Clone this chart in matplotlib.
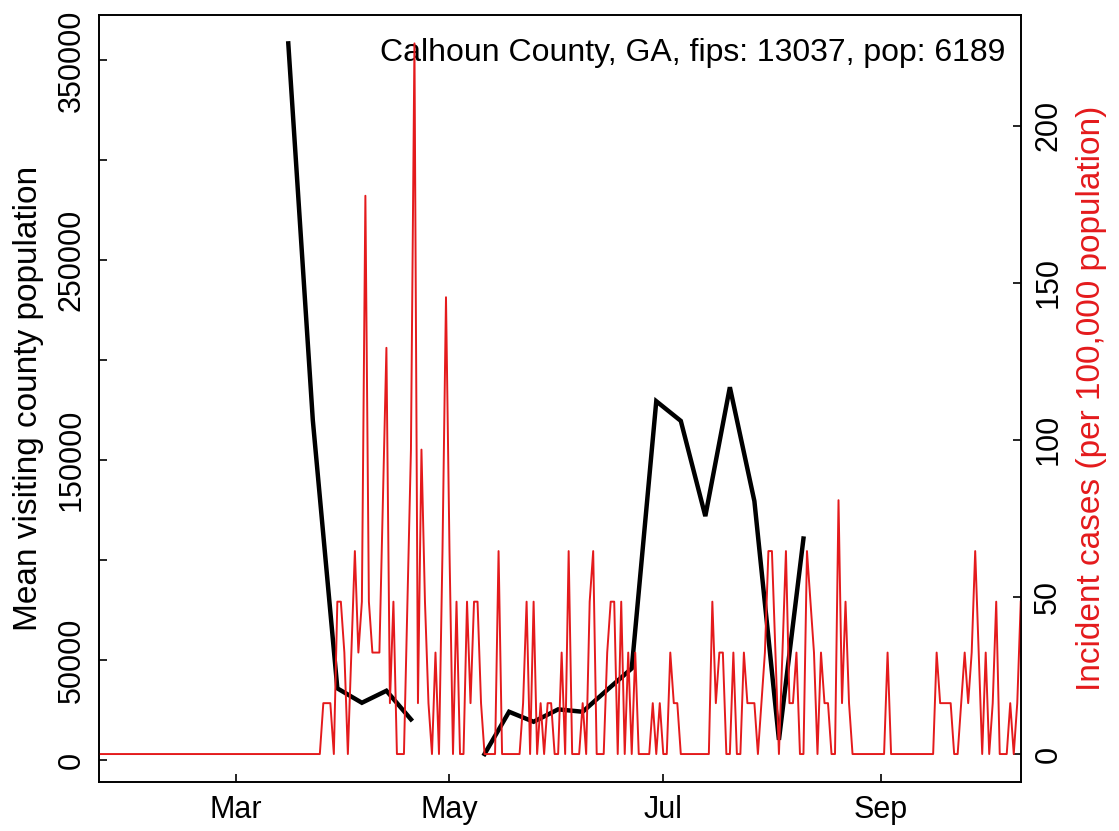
import matplotlib

matplotlib.use("Agg")
import matplotlib.pyplot as plt
import numpy as np

plt.rcParams["font.family"] = ["Liberation Sans", "DejaVu Sans"]

RED = "#E41A1C"

# daily incident cases per 100,000 (Jan 22 .. Oct 11, 2020)
case_start = "2020-01-22"
cases = (
    [0.0] * 64  # Jan 22 - Mar 25
    + [16.2, 16.2, 16.2, 0.0, 48.5, 48.5, 32.3, 0.0, 32.3, 64.6, 32.3, 48.5,
       177.7, 48.5, 32.3, 32.3, 32.3, 80.8, 129.3, 16.2, 48.5, 0.0, 0.0, 0.0,
       48.5, 96.9, 226.2, 16.2, 96.9, 48.5, 16.2, 0.0, 32.3, 0.0, 64.6, 145.4]  # Mar 26 - Apr 30
    + [64.6, 0.0, 48.5, 0.0, 0.0, 48.5, 16.2, 48.5, 48.5, 16.2, 0.0, 0.0,
       0.0, 0.0, 64.6, 0.0, 0.0, 0.0, 0.0, 0.0, 0.0, 16.2, 48.5, 0.0,
       48.5, 0.0, 16.2, 0.0, 16.2, 16.2, 0.0]  # May
    + [0.0, 32.3, 0.0, 64.6, 0.0, 0.0, 0.0, 16.2, 0.0, 48.5, 64.6, 0.0,
       0.0, 0.0, 32.3, 48.5, 48.5, 0.0, 48.5, 0.0, 32.3, 0.0, 32.3, 0.0,
       0.0, 0.0, 0.0, 16.2, 0.0, 16.2]  # Jun
    + [0.0, 0.0, 32.3, 16.2, 16.2, 0.0, 0.0, 0.0, 0.0, 0.0, 0.0, 0.0,
       0.0, 0.0, 48.5, 16.2, 32.3, 32.3, 0.0, 0.0, 32.3, 0.0, 0.0, 32.3,
       16.2, 16.2, 16.2, 0.0, 16.2, 32.3, 64.6]  # Jul
    + [64.6, 32.3, 0.0, 32.3, 64.6, 16.2, 16.2, 32.3, 0.0, 0.0, 64.6, 48.5,
       32.3, 0.0, 32.3, 16.2, 16.2, 0.0, 0.0, 80.8, 16.2, 48.5, 16.2, 0.0,
       0.0, 0.0, 0.0, 0.0, 0.0, 0.0, 0.0]  # Aug
    + [0.0, 0.0, 32.3, 0.0, 0.0, 0.0, 0.0, 0.0, 0.0, 0.0, 0.0, 0.0,
       0.0, 0.0, 0.0, 0.0, 32.3, 16.2, 16.2, 16.2, 16.2, 0.0, 0.0, 16.2,
       32.3, 16.2, 32.3, 64.6, 32.3, 0.0]  # Sep
    + [32.3, 0.0, 16.2, 48.5, 0.0, 0.0, 0.0, 16.2, 0.0, 16.2, 48.5]  # Oct 1 - 11
)
case_dates = np.arange(np.datetime64(case_start), np.datetime64(case_start) + len(cases))

# weekly mean visiting county population (gaps = missing weeks)
visit_dates = np.array([
    "2020-03-16", "2020-03-23", "2020-03-30", "2020-04-06", "2020-04-13", "2020-04-20",
    "2020-04-27", "2020-05-04", "2020-05-11", "2020-05-18", "2020-05-25", "2020-06-01",
    "2020-06-08", "2020-06-15", "2020-06-22", "2020-06-29", "2020-07-06", "2020-07-13",
    "2020-07-20", "2020-07-27", "2020-08-03", "2020-08-10",
], dtype="datetime64[D]")
visit_pop = [
    358500, 170000, 35850, 28650, 34650, 20350,
    np.nan, np.nan, 3000, 24150, 19150, 25350,
    24150, 35100, 45850, 179500, 169650, 122000,
    186500, 129500, 10100, 110800,
]

month_ticks = np.array(["2020-03-01", "2020-05-01", "2020-07-01", "2020-09-01"], dtype="datetime64[D]")
month_labels = ["Mar", "May", "Jul", "Sep"]
left_ticks = [0, 50000, 100000, 150000, 200000, 250000, 300000, 350000]
left_labels = ["0", "50000", "", "150000", "", "250000", "", "350000"]
right_ticks = [0, 50, 100, 150, 200]

title = "Calhoun County, GA, fips: 13037, pop: 6189"

fig = plt.figure(figsize=(11.19, 8.31), dpi=100)
ax = fig.add_axes([0.0885, 0.0584, 0.8237, 0.9236])
ax2 = ax.twinx()

ax.plot(visit_dates, visit_pop, color="black", lw=3.2, solid_joinstyle="miter")
ax2.plot(case_dates, cases, color=RED, lw=1.4)

ax.set_xlim(case_dates[0], case_dates[-1])
ax.margins(y=0.04)
ax2.margins(y=0.04)

ax.set_xticks(month_ticks)
ax.set_xticklabels(month_labels)
ax.set_yticks(left_ticks)
ax.set_yticklabels(left_labels, rotation=90, va="center")
ax2.set_yticks(right_ticks)
ax2.set_yticklabels([str(t) for t in right_ticks], rotation=90, va="center")

for a in (ax, ax2):
    a.tick_params(direction="in", length=6, width=1.2, labelsize=22, pad=9)
    for s in a.spines.values():
        s.set_linewidth(1.2)

ax.set_ylabel("Mean visiting county population", fontsize=24, labelpad=9)
ax2.set_ylabel("Incident cases (per 100,000 population)", fontsize=24, color=RED, labelpad=9)

ax.text(0.983, 0.9505, title, transform=ax.transAxes, ha="right", va="center", fontsize=23)

fig.savefig("out.png", dpi=100)
